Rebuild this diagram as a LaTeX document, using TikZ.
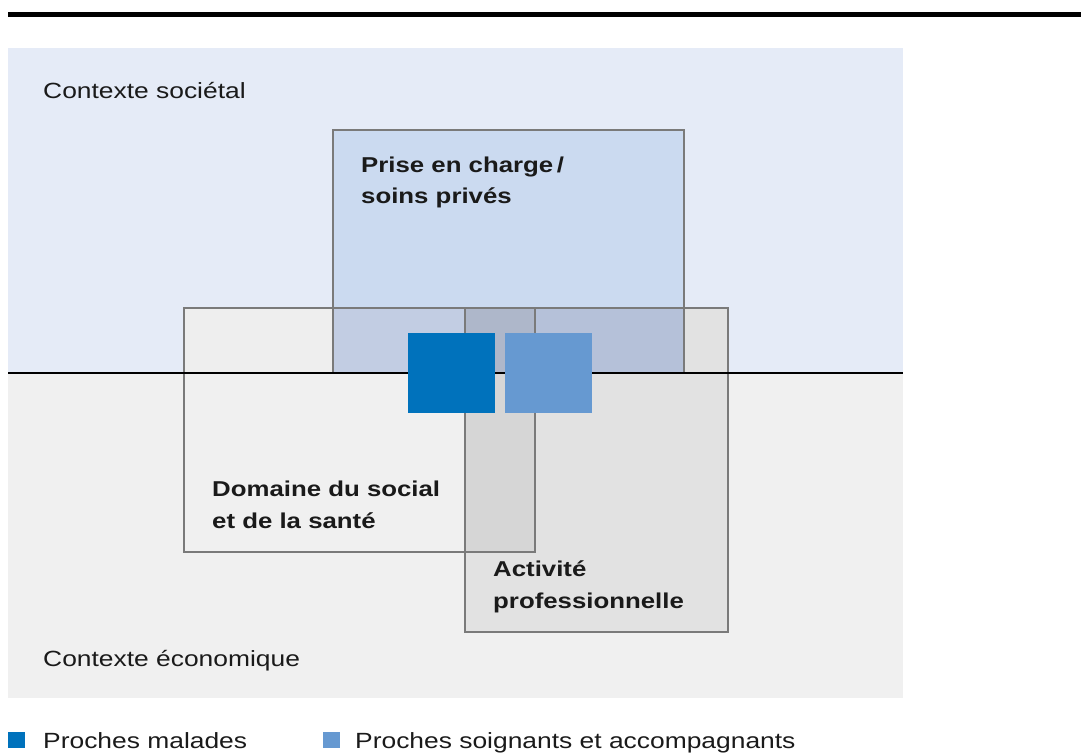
\documentclass[tikz,border=0pt]{standalone}
\usepackage{fontspec}
\newfontfamily\txtfont[FakeStretch=1.2]{Liberation Sans}
\definecolor{bgtop}{HTML}{E5EBF7}
\definecolor{bgbot}{HTML}{F0F0F0}
\definecolor{prisefill}{HTML}{CBDAF0}
\definecolor{domup}{HTML}{EEEEEE}
\definecolor{domprise}{HTML}{C2CDE3}
\definecolor{triple}{HTML}{AEB7CA}
\definecolor{actprise}{HTML}{B5C1D9}
\definecolor{actfill}{HTML}{E2E2E2}
\definecolor{actdom}{HTML}{D6D6D6}
\definecolor{boxline}{HTML}{7A7A7A}
\definecolor{darkblue}{HTML}{0072BC}
\definecolor{lightblue}{HTML}{6699D1}
\definecolor{txtcol}{HTML}{1A1A1A}
\tikzset{
  reg/.style={text=txtcol, inner sep=0pt, anchor=base west, font=\txtfont\fontsize{22}{26}\selectfont},
  bld/.style={text=txtcol, inner sep=0pt, anchor=base west, font=\txtfont\bfseries\fontsize{21.5}{26}\selectfont},
  boxedge/.style={draw=boxline, line width=1.2pt},
}
\begin{document}
\begin{tikzpicture}[x=1pt, y=-1pt]
\useasboundingbox (0,0) rectangle (1081,753);
% top rule
\draw[line width=4.5pt, black] (8,14.5) -- (1081,14.5);
% backgrounds
\fill[bgtop] (8,48) rectangle (903,373);
\fill[bgbot] (8,373) rectangle (903,698);
% region fills
\fill[prisefill] (333,130) rectangle (684,373);
\fill[domup] (184,308) rectangle (333,373);
\fill[domprise] (333,308) rectangle (465,373);
\fill[triple] (465,308) rectangle (535,373);
\fill[actprise] (535,308) rectangle (684,373);
\fill[actfill] (684,308) rectangle (728,373);
\fill[actfill] (465,373) rectangle (728,632);
\fill[actdom] (465,373) rectangle (535,552);
% box outlines
\draw[boxedge] (333,130) rectangle (684,373);
\draw[boxedge] (184,308) rectangle (535,552);
\draw[boxedge] (465,308) rectangle (728,632);
% dividing line
\draw[line width=2.5pt, black] (8,373) -- (903,373);
% squares
\fill[darkblue] (408,333) rectangle (495,413);
\fill[lightblue] (505,333) rectangle (592,413);
% texts
\node[reg] (soc) at (43,98) {Contexte sociétal};
\node[reg] (eco) at (43,666) {Contexte économique};
\node[bld] (prise1) at (361,172) {Prise en charge\,/};
\node[bld] (prise2) at (361,203) {soins privés};
\node[bld] (dom1) at (212,496) {Domaine du social};
\node[bld] (dom2) at (212,528) {et de la santé};
\node[bld] (act1) at (493,576) {Activité};
\node[bld] (act2) at (493,608) {professionnelle};
% legend
\fill[darkblue] (8,732) rectangle (25,748);
\node[reg] (leg1) at (43,748) {Proches malades};
\fill[lightblue] (323,732) rectangle (340,748);
\node[reg] (leg2) at (355,748) {Proches soignants et accompagnants};
\end{tikzpicture}
\end{document}
